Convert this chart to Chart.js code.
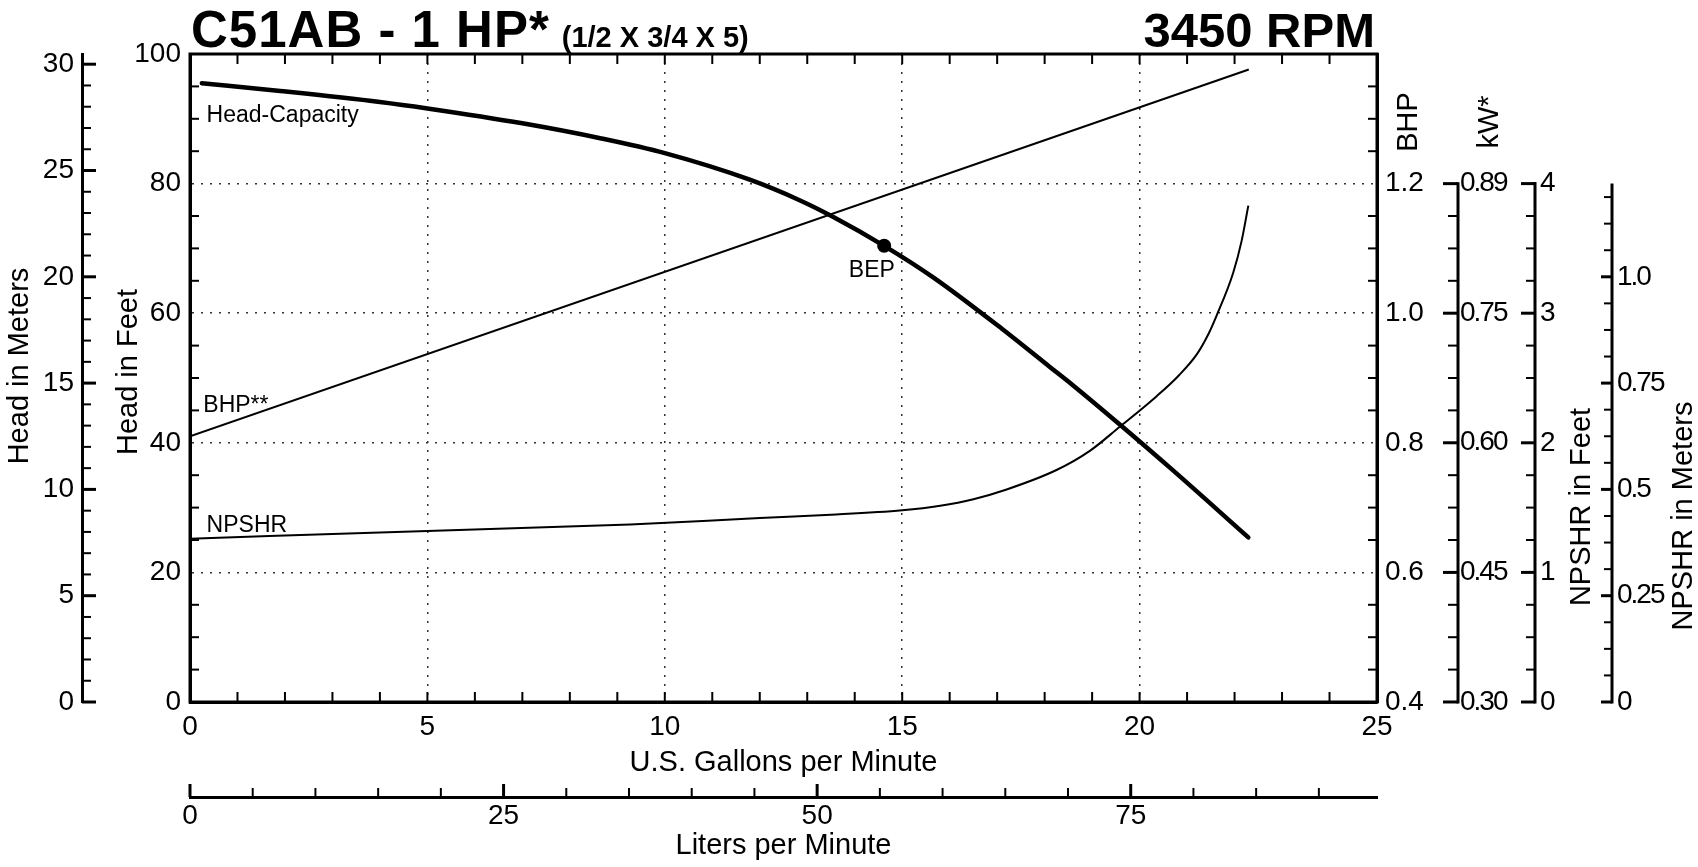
<!DOCTYPE html>
<html>
<head>
<meta charset="utf-8">
<script src="https://cdn.jsdelivr.net/npm/chart.js@4.4.1/dist/chart.umd.min.js"></script>
<style>
html,body{margin:0;padding:0;background:#fff;overflow:hidden;}
canvas{display:block;}
</style>
</head>
<body>
<canvas id="c" width="1698" height="867"></canvas>
<script>
// ---------------- DATA ----------------
const headGpm = [0.25, 1.9, 4.0, 5.0, 7.0, 8.64, 10.0, 11.79, 12.85, 13.55, 14.62, 15.66, 17.1, 18.11, 18.6, 19.57, 20.71, 22.29];
const headFt  = [95.5, 94.3, 92.6, 91.6, 89.3, 87.0, 84.7, 80.6, 77.4, 74.85, 70.4, 65.5, 57.6, 51.7, 48.85, 42.9, 35.7, 25.4];

const bhpGpm = [0, 22.3];
const bhpHp  = [0.81, 1.376];

const npshrGpm = [0, 5, 9.27, 12, 13.5, 15, 15.8, 16.5, 17.2, 18.25, 18.96, 19.57, 20.36, 20.8, 21.2, 21.45, 21.62, 21.97, 22.15, 22.29];
const npshrFt  = [1.26, 1.32, 1.37, 1.42, 1.445, 1.48, 1.515, 1.565, 1.64, 1.79, 1.94, 2.12, 2.36, 2.51, 2.68, 2.84, 2.98, 3.31, 3.56, 3.83];

const bepGpm = [14.62];
const bepFt  = [70.4];

// tick labels
const bhpTickLabels   = ['0.4', '0.6', '0.8', '1.0', '1.2'];
const kwTickValues    = [0.2983, 0.4474, 0.5966, 0.7457, 0.8948];
const kwTickLabels    = ['0.30', '0.45', '0.60', '0.75', '0.89'];
const npFtTickValues  = [0, 1, 2, 3, 4];
const npFtTickLabels  = ['0', '1', '2', '3', '4'];
const npMTickValues   = [0, 0.25, 0.5, 0.75, 1.0];
const npMTickLabels   = ['0', '0.25', '0.5', '0.75', '1.0'];

// curve annotations (anchored in data units: GPM, feet)
const curveLabels   = ['Head-Capacity', 'BHP**', 'NPSHR', 'BEP'];
const curveLabelGpm = [0.35, 0.28, 0.35, 14.36];
const curveLabelFt  = [89.57, 44.8, 26.28, 65.54];

// unit conversions
const FT_TO_M = 0.3048;
const GPM_TO_LPM = 3.78541;
const HP_TO_KW = 0.7457;

// ---------------- STYLE ----------------
const FONT = '"Liberation Sans", Arial, Helvetica, sans-serif';
Chart.defaults.font.family = FONT;
Chart.defaults.color = '#000';

const pts = (xs, ys) => xs.map((x, i) => ({x: x, y: ys[i]}));

function seg(ctx, x1, y1, x2, y2, w) {
  ctx.lineWidth = w;
  ctx.beginPath();
  ctx.moveTo(x1, y1);
  ctx.lineTo(x2, y2);
  ctx.stroke();
}
function rotText(ctx, text, x, y) {
  ctx.save();
  ctx.translate(x, y);
  ctx.rotate(-Math.PI / 2);
  ctx.fillText(text, 0, 0);
  ctx.restore();
}

const decor = {
  id: 'decor',
  afterDraw(chart) {
    const ctx = chart.ctx;
    const a = chart.chartArea;
    const s = chart.scales;
    ctx.save();
    ctx.strokeStyle = '#000';
    ctx.fillStyle = '#000';
    ctx.lineCap = 'butt';

    // plot frame
    ctx.lineWidth = 3;
    ctx.strokeRect(a.left, a.top, a.right - a.left, a.bottom - a.top);

    // GPM minor ticks (top & bottom, inward)
    for (let g = 1; g < 25; g++) {
      const px = s.x.getPixelForValue(g);
      seg(ctx, px, a.top, px, a.top + 10, 2);
      seg(ctx, px, a.bottom, px, a.bottom - 10, 2);
    }
    // Feet minor ticks (left, inward)
    for (let f = 5; f < 100; f += 5) {
      if (f % 20 === 0) continue;
      const py = s.yFt.getPixelForValue(f);
      seg(ctx, a.left, py, a.left + 9, py, 2);
    }
    // BHP minor ticks (right, inward)
    for (let k = 1; k < 20; k++) {
      if (k % 4 === 0) continue;
      const py = s.yBhp.getPixelForValue(0.4 + k * 0.05);
      seg(ctx, a.right, py, a.right - 9, py, 2);
    }
    // Meters axis ticks
    const mx = s.yM.right;
    for (let m = 0; m <= 30; m++) {
      const py = s.yM.getPixelForValue(m);
      if (m % 5 === 0) seg(ctx, mx, py, mx + 14, py, 3);
      else seg(ctx, mx, py, mx + 9, py, 2);
    }
    // LPM axis ticks (upward)
    const ly = s.xLpm.top;
    for (let l = 0; l <= 90; l += 5) {
      const px = s.xLpm.getPixelForValue(l);
      if (l % 25 === 0) seg(ctx, px, ly, px, ly - 13, 3);
      else seg(ctx, px, ly, px, ly - 9, 2);
    }

    ctx.font = '28px ' + FONT;
    ctx.textBaseline = 'middle';
    ctx.textAlign = 'left';

    // kW axis
    const kx = a.right + 81;
    const kTop = s.yKw.getPixelForValue(kwTickValues[kwTickValues.length - 1]);
    seg(ctx, kx, a.bottom + 1.5, kx, kTop - 1.5, 3);
    ctx.letterSpacing = '-2px';
    kwTickValues.forEach((v, i) => {
      const py = s.yKw.getPixelForValue(v);
      seg(ctx, kx, py, kx - 15, py, 3);
      ctx.fillText(kwTickLabels[i], kx + 2, py);
      if (i < kwTickValues.length - 1) {
        for (let k = 1; k < 4; k++) {
          const pv = s.yKw.getPixelForValue(v + (kwTickValues[i + 1] - v) * k / 4);
          seg(ctx, kx, pv, kx - 10, pv, 2);
        }
      }
    });
    ctx.letterSpacing = '0px';

    // NPSHR feet axis
    const fx = a.right + 158;
    const fTop = s.yNpFt.getPixelForValue(npFtTickValues[npFtTickValues.length - 1]);
    seg(ctx, fx, a.bottom + 1.5, fx, fTop - 1.5, 3);
    npFtTickValues.forEach((v, i) => {
      const py = s.yNpFt.getPixelForValue(v);
      seg(ctx, fx, py, fx - 14, py, 3);
      ctx.fillText(npFtTickLabels[i], fx + 5, py);
      if (i < npFtTickValues.length - 1) {
        for (let k = 1; k < 4; k++) {
          const pv = s.yNpFt.getPixelForValue(v + k * 0.25);
          seg(ctx, fx, pv, fx - 9, pv, 2);
        }
      }
    });

    // NPSHR meters axis
    const nx = a.right + 235;
    const nTopVal = npFtTickValues[npFtTickValues.length - 1] * FT_TO_M;
    const nTop = s.yNpM.getPixelForValue(nTopVal);
    seg(ctx, nx, a.bottom + 1.5, nx, nTop, 3);
    ctx.letterSpacing = '-2px';
    npMTickValues.forEach((v, i) => {
      const py = s.yNpM.getPixelForValue(v);
      seg(ctx, nx, py, nx - 11, py, 3);
      ctx.fillText(npMTickLabels[i], nx + 5, py);
    });
    ctx.letterSpacing = '0px';
    for (let k = 1; k * 0.0625 < nTopVal; k++) {
      if (k % 4 === 0) continue;
      const pv = s.yNpM.getPixelForValue(k * 0.0625);
      seg(ctx, nx, pv, nx - 8, pv, 2);
    }

    // axis titles (rotated, reading upward)
    ctx.font = '29px ' + FONT;
    ctx.textAlign = 'center';
    ctx.textBaseline = 'alphabetic';
    rotText(ctx, 'Head in Meters', s.yM.left + 28, a.top + 312);
    rotText(ctx, 'Head in Feet', s.yFt.left + 55, a.top + 318);
    rotText(ctx, 'BHP', a.right + 40, a.top + 68);
    rotText(ctx, 'kW*', a.right + 121, a.top + 68);
    rotText(ctx, 'NPSHR in Feet', a.right + 213, a.top + 453);
    rotText(ctx, 'NPSHR in Meters', a.right + 315, a.top + 462);

    // main titles
    ctx.textAlign = 'left';
    ctx.font = 'bold 51px ' + FONT;
    ctx.letterSpacing = '1px';
    const t1 = 'C51AB - 1 HP*';
    ctx.fillText(t1, a.left + 1, a.top - 7);
    const w1 = ctx.measureText(t1).width;
    ctx.letterSpacing = '0px';
    ctx.font = 'bold 29px ' + FONT;
    ctx.fillText('(1/2 X 3/4 X 5)', a.left + 1 + w1 + 12, a.top - 7);
    ctx.textAlign = 'right';
    ctx.font = 'bold 49px ' + FONT;
    ctx.fillText('3450 RPM', a.right - 2, a.top - 7);

    // curve annotations
    ctx.font = '23px ' + FONT;
    curveLabels.forEach((t, i) => {
      ctx.textAlign = (t === 'BEP') ? 'center' : 'left';
      ctx.fillText(t, s.x.getPixelForValue(curveLabelGpm[i]), s.yFt.getPixelForValue(curveLabelFt[i]));
    });

    ctx.restore();
  }
};

const edgeTransparent = (lo, hi) => (c) => {
  if (!c.tick) return 'transparent';
  const v = c.tick.value;
  return (Math.abs(v - lo) < 1e-6 || Math.abs(v - hi) < 1e-6) ? 'transparent' : '#333';
};

new Chart(document.getElementById('c'), {
  type: 'line',
  data: {
    datasets: [
      {
        label: 'Head-Capacity',
        data: pts(headGpm, headFt),
        xAxisID: 'x', yAxisID: 'yFt',
        borderColor: '#000', borderWidth: 4.5,
        borderCapStyle: 'round',
        pointRadius: 0, fill: false,
        cubicInterpolationMode: 'monotone'
      },
      {
        label: 'BHP**',
        data: pts(bhpGpm, bhpHp),
        xAxisID: 'x', yAxisID: 'yBhp',
        borderColor: '#000', borderWidth: 2,
        pointRadius: 0, fill: false
      },
      {
        label: 'NPSHR',
        data: pts(npshrGpm, npshrFt),
        xAxisID: 'x', yAxisID: 'yNpFt',
        borderColor: '#000', borderWidth: 2,
        pointRadius: 0, fill: false,
        cubicInterpolationMode: 'monotone'
      },
      {
        label: 'BEP',
        data: pts(bepGpm, bepFt),
        xAxisID: 'x', yAxisID: 'yFt',
        showLine: false,
        pointRadius: 7, pointBorderWidth: 0,
        pointBackgroundColor: '#000', borderColor: '#000'
      }
    ]
  },
  options: {
    responsive: false,
    animation: false,
    layout: { padding: { top: 54, right: 251, bottom: 0, left: 0 } },
    plugins: { legend: { display: false }, tooltip: { enabled: false }, title: { display: false } },
    scales: {
      x: {
        type: 'linear', position: 'bottom', weight: 0,
        min: 0, max: 25,
        ticks: { stepSize: 5, font: { size: 28 }, color: '#000', padding: 8, maxRotation: 0, autoSkip: false },
        grid: { drawTicks: false, color: edgeTransparent(0, 25), lineWidth: 1.5 },
        border: { display: true, width: 3, color: '#000', dash: [2, 7] },
        title: { display: true, text: 'U.S. Gallons per Minute', font: { size: 29 }, color: '#000', padding: { top: 0, bottom: 17 } },
        afterFit: (sc) => { sc.height = 95; }
      },
      xLpm: {
        type: 'linear', position: 'bottom', weight: 1,
        min: 0, max: 25 * GPM_TO_LPM,
        ticks: { stepSize: 25, includeBounds: false, font: { size: 28 }, color: '#000', padding: 2, maxRotation: 0, autoSkip: false },
        grid: { display: false, drawTicks: false },
        border: { display: true, width: 3, color: '#000' },
        title: { display: true, text: 'Liters per Minute', font: { size: 29 }, color: '#000', padding: { top: 0, bottom: 4 } },
        afterFit: (sc) => { sc.height = 70; }
      },
      yFt: {
        type: 'linear', position: 'left', weight: 0,
        min: 0, max: 100,
        ticks: { stepSize: 20, font: { size: 28 }, color: '#000', padding: 9 },
        grid: { drawTicks: false, color: edgeTransparent(0, 100), lineWidth: 1.5 },
        border: { display: true, width: 3, color: '#000', dash: [2, 7] },
        title: { display: false, text: 'Head in Feet' },
        afterFit: (sc) => { sc.width = 108; }
      },
      yM: {
        type: 'linear', position: 'left', weight: 1,
        min: 0, max: 100 * FT_TO_M,
        ticks: { stepSize: 5, includeBounds: false, font: { size: 28 }, color: '#000', padding: 8 },
        grid: { display: false, drawTicks: false },
        border: { display: true, width: 3, color: '#000' },
        title: { display: false, text: 'Head in Meters' },
        afterFit: (sc) => { sc.width = 82; }
      },
      yBhp: {
        type: 'linear', position: 'right', weight: 0,
        min: 0.4, max: 1.4,
        ticks: {
          stepSize: 0.2, font: { size: 28 }, color: '#000', padding: 8,
          callback: (v) => {
            const i = Math.round((v - 0.4) / 0.2);
            return (i >= 0 && i < bhpTickLabels.length) ? bhpTickLabels[i] : '';
          }
        },
        grid: { display: false, drawTicks: false },
        border: { display: true, width: 3, color: '#000' },
        afterFit: (sc) => { sc.width = 70; }
      },
      yKw:   { type: 'linear', display: false, min: 0.4 * HP_TO_KW, max: 1.4 * HP_TO_KW },
      yNpFt: { type: 'linear', display: false, min: 0, max: 5 },
      yNpM:  { type: 'linear', display: false, min: 0, max: 5 * FT_TO_M }
    }
  },
  plugins: [decor]
});
</script>
</body>
</html>
